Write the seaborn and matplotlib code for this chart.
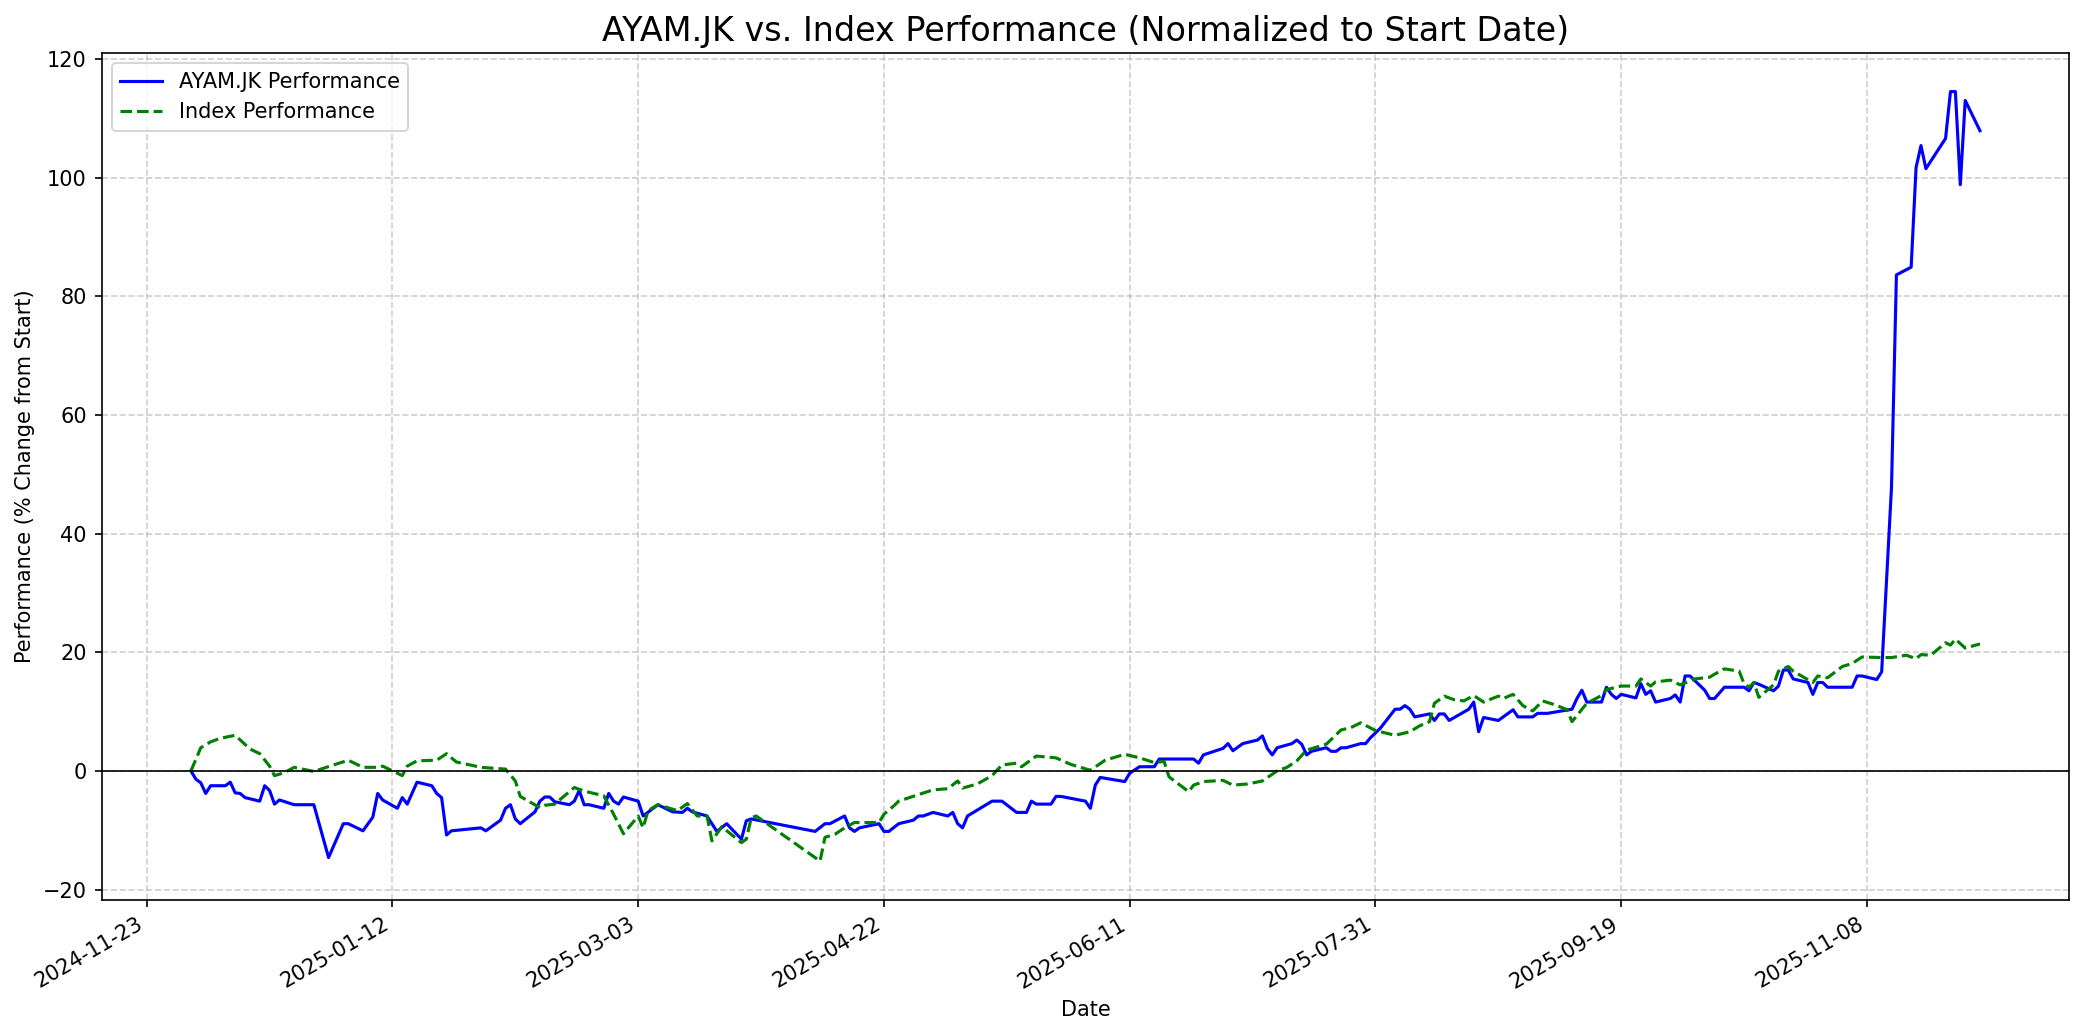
import pandas as pd
import matplotlib
matplotlib.use('Agg')
import matplotlib.pyplot as plt
import matplotlib.dates as mdates
from matplotlib.ticker import MultipleLocator
import seaborn as sns

# day offsets counted from 2024-11-23
anchor = pd.Timestamp('2024-11-23')

stock_days = [9, 10, 11, 12, 13, 16, 17, 18, 19, 20, 23, 24, 25, 26, 27, 30, 34, 37, 40, 41,
              44, 46, 47, 48, 51, 52, 53, 55, 58, 59, 60, 61, 62, 68, 69, 72, 73, 74, 75, 76,
              79, 80, 81, 82, 83, 86, 87, 88, 89, 90, 93, 94, 95, 96, 97, 100, 101, 104, 107, 109,
              110, 111, 114, 116, 118, 121, 122, 123, 136, 138, 139, 142, 143, 144, 145, 149, 150, 151, 153, 156,
              157, 158, 160, 163, 164, 165, 166, 167, 172, 174, 177, 179, 180, 181, 184, 185, 186, 191, 192, 193,
              194, 199, 200, 202, 205, 206, 213, 214, 215, 219, 220, 221, 223, 226, 227, 228, 229, 230, 233, 234,
              235, 236, 237, 240, 241, 242, 243, 244, 247, 248, 249, 251, 254, 255, 256, 257, 258, 261, 262, 263,
              264, 265, 269, 270, 271, 272, 275, 278, 279, 282, 283, 285, 290, 291, 292, 293, 296, 297, 298, 299,
              300, 303, 304, 305, 306, 307, 310, 311, 312, 313, 314, 317, 318, 319, 321, 325, 326, 327, 328, 331,
              332, 333, 334, 335, 338, 339, 340, 341, 342, 347, 348, 349, 352, 353, 355, 356, 359, 360, 361, 362,
              366, 367, 368, 369, 370, 373]
stock_perf = [0.0, -1.4, -2.0, -3.8, -2.5, -2.5, -1.9, -3.7, -3.8, -4.5, -5.1, -2.5, -3.3, -5.6, -4.9, -5.7, -5.7, -14.6, -8.9, -8.9,
              -10.1, -7.8, -3.8, -4.9, -6.3, -4.5, -5.6, -1.9, -2.5, -3.8, -4.5, -10.8, -10.1, -9.6, -10.1, -8.3, -6.3, -5.7, -8.1, -8.9,
              -6.9, -5.1, -4.4, -4.4, -5.2, -5.7, -5.1, -3.3, -5.7, -5.7, -6.3, -3.8, -5.1, -5.6, -4.4, -5.1, -7.6, -5.7, -6.9, -7.0,
              -6.3, -6.9, -7.6, -10.2, -8.9, -11.5, -8.4, -8.1, -10.2, -8.9, -8.9, -7.6, -9.6, -10.2, -9.6, -8.9, -10.2, -10.2, -8.9, -8.3,
              -7.6, -7.6, -7.0, -7.6, -7.0, -8.9, -9.6, -7.6, -5.1, -5.1, -7.0, -7.0, -5.1, -5.6, -5.6, -4.3, -4.3, -5.1, -6.3, -2.4,
              -1.1, -1.8, -0.4, 0.7, 0.7, 2.0, 2.0, 1.3, 2.7, 3.8, 4.6, 3.4, 4.6, 5.2, 5.9, 3.8, 2.7, 3.9, 4.6, 5.2,
              4.5, 2.7, 3.3, 3.9, 3.3, 3.3, 3.9, 3.9, 4.6, 4.6, 5.6, 7.2, 10.4, 10.4, 11.0, 10.4, 9.1, 9.6, 8.5, 9.6,
              9.6, 8.5, 10.4, 11.6, 6.6, 9.0, 8.5, 10.3, 9.1, 9.1, 9.7, 9.7, 10.4, 12.2, 13.6, 11.6, 11.6, 14.1, 12.9, 12.2,
              12.9, 12.3, 14.7, 12.9, 13.5, 11.6, 12.2, 12.8, 11.6, 16.0, 16.0, 13.6, 12.2, 12.2, 14.1, 14.1, 13.5, 14.9, 14.6, 13.5,
              14.3, 17.0, 17.0, 15.5, 14.9, 12.9, 14.9, 14.9, 14.1, 14.1, 16.0, 16.0, 15.4, 16.7, 47.8, 83.6, 84.9, 101.7, 105.4, 101.5,
              106.6, 114.5, 114.5, 98.8, 113.0, 107.9]

index_days = [9, 11, 13, 15, 18, 21, 23, 25, 26, 28, 30, 34, 38, 41, 44, 47, 48, 52, 53, 55,
              59, 61, 63, 68, 73, 75, 76, 80, 81, 83, 85, 87, 89, 93, 95, 97, 100, 101, 102, 104,
              108, 110, 112, 114, 115, 117, 121, 122, 123, 124, 137, 138, 140, 142, 144, 149, 150, 152, 153, 157,
              160, 163, 165, 166, 169, 172, 174, 177, 178, 181, 185, 188, 192, 195, 199, 202, 205, 207, 208, 212,
              213, 215, 219, 221, 224, 227, 230, 232, 234, 236, 240, 241, 243, 245, 247, 250, 254, 257, 259, 261,
              262, 264, 266, 268, 270, 272, 275, 276, 278, 280, 282, 284, 287, 289, 290, 293, 296, 297, 300, 303,
              304, 306, 307, 310, 312, 315, 318, 319, 321, 324, 325, 326, 327, 328, 331, 332, 334, 335, 339, 340,
              342, 345, 347, 349, 353, 355, 358, 360, 361, 363, 366, 367, 368, 370, 373]
index_perf = [0.0, 3.9, 4.9, 5.5, 6.0, 3.7, 2.9, 0.8, -0.8, -0.3, 0.6, -0.1, 1.0, 1.8, 0.6, 0.6, 0.8, -0.8, 0.8, 1.7,
              1.8, 2.9, 1.5, 0.6, 0.3, -1.7, -4.3, -6.2, -5.8, -5.6, -4.2, -2.8, -3.4, -4.2, -7.3, -10.6, -7.6, -9.6, -6.7, -5.7,
              -6.7, -5.5, -7.6, -7.6, -11.8, -9.4, -12.1, -11.5, -7.9, -7.6, -15.2, -11.2, -10.7, -9.6, -8.7, -8.7, -7.3, -5.9, -5.1, -4.0,
              -3.2, -3.0, -1.7, -2.9, -2.2, -0.8, 1.0, 1.3, 0.7, 2.5, 2.2, 1.1, 0.1, 1.8, 2.8, 2.2, 1.4, 1.6, -1.0, -3.5,
              -2.4, -1.8, -1.6, -2.4, -2.2, -1.7, 0.0, 0.6, 1.7, 3.5, 4.5, 5.3, 6.9, 7.3, 8.1, 6.8, 6.0, 6.6, 7.6, 8.3,
              11.4, 12.6, 12.0, 11.8, 12.7, 11.6, 12.6, 12.2, 12.9, 11.0, 10.1, 11.8, 11.0, 10.3, 8.3, 11.4, 12.7, 13.7, 14.3, 14.3,
              15.5, 14.3, 15.0, 15.3, 14.5, 15.5, 15.8, 16.3, 17.2, 16.8, 14.7, 14.1, 14.9, 12.4, 14.5, 16.8, 17.6, 16.8, 14.9, 16.0,
              15.7, 17.6, 18.1, 19.2, 19.1, 19.1, 19.5, 18.9, 19.6, 19.5, 21.6, 21.2, 22.2, 20.7, 21.4]

ticker = 'AYAM.JK'

df_stock = pd.DataFrame({'Date': anchor + pd.to_timedelta(stock_days, unit='D'),
                         'Performance': stock_perf})
df_index = pd.DataFrame({'Date': anchor + pd.to_timedelta(index_days, unit='D'),
                         'Performance': index_perf})

fig, ax = plt.subplots(figsize=(2084 / 150, 1035 / 150), dpi=150)

sns.lineplot(data=df_stock, x='Date', y='Performance', color='blue', linestyle='-',
             label=f'{ticker} Performance', ax=ax)
sns.lineplot(data=df_index, x='Date', y='Performance', color='green', linestyle='--',
             label='Index Performance', ax=ax)
ax.axhline(0, color='black', linewidth=0.8)

ax.xaxis.set_major_locator(MultipleLocator(50))
ax.xaxis.set_major_formatter(mdates.DateFormatter('%Y-%m-%d'))
fig.autofmt_xdate()

ax.set_title(f'{ticker} vs. Index Performance (Normalized to Start Date)', fontsize=16)
ax.set_xlabel('Date')
ax.set_ylabel('Performance (% Change from Start)')
ax.grid(True, linestyle='--', alpha=0.6)
ax.legend(loc='upper left')

plt.tight_layout(pad=0.7)
plt.savefig('out.png', dpi=150)
